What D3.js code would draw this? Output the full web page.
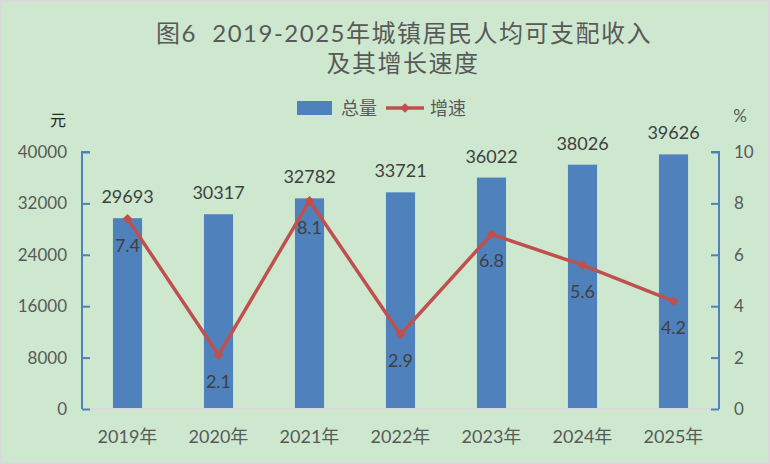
<!DOCTYPE html>
<html>
<head>
<meta charset="utf-8">
<script src="https://cdn.jsdelivr.net/npm/d3@7"></script>
<style>
  body { margin: 0; background: #fff; }
  text { font-family: 'Lato', 'Noto Sans CJK SC', sans-serif; }
</style>
</head>
<body>
<svg id="chart"></svg>
<script>
const years = ['2019年', '2020年', '2021年', '2022年', '2023年', '2024年', '2025年'];
const totals = [29693, 30317, 32782, 33721, 36022, 38026, 39626];
const growth = [7.4, 2.1, 8.1, 2.9, 6.8, 5.6, 4.2];
const leftTicks = [0, 8000, 16000, 24000, 32000, 40000];
const rightTicks = [0, 2, 4, 6, 8, 10];

const width = 770;
const height = 464;
const plot = { left: 82, right: 719, top: 152, bottom: 409 };

const barColor = '#4f81bd';
const lineColor = '#c0504d';
const tickColor = '#595959';
const labelColor = '#404040';

const svg = d3.select('#chart')
  .attr('width', width)
  .attr('height', height)
  .attr('viewBox', [0, 0, width, height]);

// background + frame
svg.append('rect')
  .attr('x', 1).attr('y', 1)
  .attr('width', width - 2).attr('height', height - 2)
  .attr('fill', '#cde8cf')
  .attr('stroke', '#d9d9d9')
  .attr('stroke-width', 2);

const x = d3.scaleBand().domain(years).range([plot.left, plot.right]).paddingInner(0).paddingOuter(0);
const yL = d3.scaleLinear().domain([0, 40000]).range([plot.bottom, plot.top]);
const yR = d3.scaleLinear().domain([0, 10]).range([plot.bottom, plot.top]);
const barW = x.bandwidth() * 0.32;

// title
const title = svg.append('text')
  .attr('text-anchor', 'middle')
  .attr('fill', tickColor)
  .attr('xml:space', 'preserve')
  .style('font-size', '24px')
  .style('letter-spacing', '1.5px');
title.append('tspan').attr('x', 404).attr('y', 42).text('图6\u00a0\u00a02019-2025年城镇居民人均可支配收入');
title.append('tspan').attr('x', 403).attr('y', 72).text('及其增长速度');

// legend
const lg = svg.append('g').style('font-size', '18px').attr('fill', tickColor);
lg.append('rect').attr('x', 297).attr('y', 101).attr('width', 35).attr('height', 14).attr('fill', barColor);
lg.append('text').attr('x', 341).attr('y', 114.5).text('总量');
lg.append('line').attr('x1', 386).attr('x2', 424).attr('y1', 108).attr('y2', 108)
  .attr('stroke', lineColor).attr('stroke-width', 3.5);
lg.append('path').attr('d', d3.symbol(d3.symbolDiamond2, 60)()).attr('transform', 'translate(405,108)')
  .attr('fill', lineColor);
lg.append('text').attr('x', 430).attr('y', 114.5).text('增速');

// unit labels
svg.append('text').attr('x', 58).attr('y', 126).attr('text-anchor', 'middle')
  .attr('fill', '#262626').style('font-size', '16px').text('元');
svg.append('text').attr('x', 740).attr('y', 122).attr('text-anchor', 'middle')
  .attr('fill', tickColor).style('font-size', '17px').text('%');

// bars
svg.append('g').selectAll('rect')
  .data(totals)
  .join('rect')
  .attr('x', (d, i) => x(years[i]) + (x.bandwidth() - barW) / 2)
  .attr('y', d => yL(d))
  .attr('width', barW)
  .attr('height', d => yL(0) - yL(d))
  .attr('fill', barColor);

// bottom axis line
svg.append('line')
  .attr('x1', plot.left).attr('x2', plot.right)
  .attr('y1', plot.bottom).attr('y2', plot.bottom)
  .attr('stroke', '#d9d9d9').attr('stroke-width', 2);

// left axis
const axL = svg.append('g')
  .attr('transform', `translate(${plot.left},0)`)
  .call(d3.axisRight(yL).tickValues(leftTicks).tickSize(8).tickFormat(''));
axL.selectAll('path, line').attr('stroke', barColor).attr('stroke-width', 2);
axL.select('.domain').attr('d', `M8,${plot.top}H0V${plot.bottom}`);
svg.append('g').selectAll('text')
  .data(leftTicks)
  .join('text')
  .attr('x', 67)
  .attr('y', d => yL(d))
  .attr('dy', '0.35em')
  .attr('text-anchor', 'end')
  .attr('fill', tickColor)
  .style('font-size', '17px')
  .text(d => d);

// right axis
const axR = svg.append('g')
  .attr('transform', `translate(${plot.right},0)`)
  .call(d3.axisLeft(yR).tickValues(rightTicks).tickSize(8).tickFormat(''));
axR.selectAll('path, line').attr('stroke', barColor).attr('stroke-width', 2);
axR.select('.domain').attr('d', `M-8,${plot.top}H0V${plot.bottom}`);
svg.append('g').selectAll('text')
  .data(rightTicks)
  .join('text')
  .attr('x', 734)
  .attr('y', d => yR(d))
  .attr('dy', '0.35em')
  .attr('fill', tickColor)
  .style('font-size', '17px')
  .text(d => d);

// x labels
svg.append('g').selectAll('text')
  .data(years)
  .join('text')
  .attr('x', d => x(d) + x.bandwidth() / 2)
  .attr('y', 443)
  .attr('text-anchor', 'middle')
  .attr('fill', tickColor)
  .style('font-size', '18px')
  .text(d => d);

// growth line
const cx = i => x(years[i]) + x.bandwidth() / 2;
const line = d3.line().x((d, i) => cx(i)).y(d => yR(d));
svg.append('path')
  .datum(growth)
  .attr('d', line)
  .attr('fill', 'none')
  .attr('stroke', lineColor)
  .attr('stroke-width', 3.5)
  .attr('stroke-linejoin', 'round');
svg.append('g').selectAll('path')
  .data(growth)
  .join('path')
  .attr('d', d3.symbol(d3.symbolDiamond2, 60)())
  .attr('transform', (d, i) => `translate(${cx(i)},${yR(d)})`)
  .attr('fill', lineColor);

// value labels
svg.append('g').selectAll('text')
  .data(totals)
  .join('text')
  .attr('x', (d, i) => cx(i))
  .attr('y', d => yL(d) - 15)
  .attr('text-anchor', 'middle')
  .attr('fill', labelColor)
  .style('font-size', '18px')
  .text(d => d);

svg.append('g').selectAll('text')
  .data(growth)
  .join('text')
  .attr('x', (d, i) => cx(i))
  .attr('y', d => yR(d) + 33)
  .attr('text-anchor', 'middle')
  .attr('fill', labelColor)
  .style('font-size', '18px')
  .text(d => d.toFixed(1));
</script>
</body>
</html>
